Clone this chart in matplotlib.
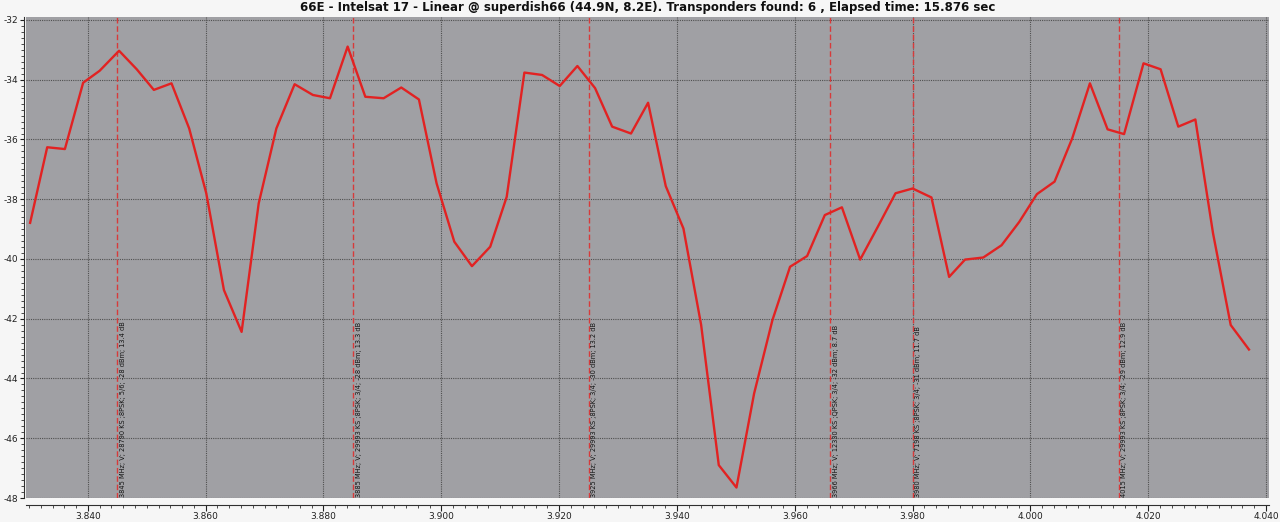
import matplotlib
matplotlib.use("Agg")
import matplotlib.pyplot as plt
from matplotlib.ticker import MultipleLocator, FormatStrFormatter

plt.rcParams["axes.unicode_minus"] = False

# spectrum samples (GHz, dB)
freq = [
    3.8302, 3.8331, 3.8361, 3.8392, 3.8420, 3.8453, 3.8483, 3.8512, 3.8542, 3.8572,
    3.8601, 3.8631, 3.8661, 3.8690, 3.8720, 3.8751, 3.8782, 3.8811, 3.8841, 3.8871,
    3.8902, 3.8932, 3.8962, 3.8992, 3.9022, 3.9052, 3.9083, 3.9111, 3.9141, 3.9171,
    3.9201, 3.9231, 3.9261, 3.9290, 3.9322, 3.9351, 3.9381, 3.9411, 3.9441, 3.9471,
    3.9501, 3.9531, 3.9562, 3.9592, 3.9621, 3.9651, 3.9680, 3.9711, 3.9741, 3.9771,
    3.9800, 3.9832, 3.9862, 3.9889, 3.9920, 3.9951, 3.9981, 4.0011, 4.0041, 4.0071,
    4.0101, 4.0131, 4.0159, 4.0192, 4.0221, 4.0251, 4.0280, 4.0310, 4.0340, 4.0371,
]
level = [
    -38.79, -36.26, -36.32, -34.10, -33.70, -33.03, -33.65, -34.34, -34.12, -35.63,
    -37.80, -41.04, -42.44, -38.14, -35.63, -34.15, -34.51, -34.62, -32.89, -34.57,
    -34.62, -34.26, -34.66, -37.47, -39.42, -40.24, -39.59, -37.92, -33.76, -33.84,
    -34.21, -33.54, -34.28, -35.57, -35.80, -34.77, -37.56, -38.98, -42.20, -46.90,
    -47.65, -44.50, -42.05, -40.26, -39.90, -38.53, -38.27, -40.02, -38.92, -37.80,
    -37.64, -37.94, -40.60, -40.02, -39.95, -39.54, -38.76, -37.83, -37.41, -35.96,
    -34.12, -35.66, -35.82, -33.45, -33.65, -35.57, -35.33, -39.14, -42.21, -43.03,
]

# transponders found
tp_freq = [3.845, 3.885, 3.925, 3.966, 3.980, 4.015]
tp_label = [
    "3845 MHz; V; 28790 KS ;8PSK; 5/6; -28 dBm; 13.4 dB",
    "3885 MHz; V; 29993 KS ;8PSK; 3/4; -28 dBm; 13.3 dB",
    "3925 MHz; V; 29993 KS ;8PSK; 3/4; -30 dBm; 13.2 dB",
    "3966 MHz; V; 12330 KS ;QPSK; 3/4; -32 dBm; 8.7 dB",
    "3980 MHz; V; 7198 KS ;8PSK; 3/4; -31 dBm; 11.7 dB",
    "4015 MHz; V; 29993 KS ;8PSK; 3/4; -29 dBm; 12.9 dB",
]

title = ("66E - Intelsat 17 - Linear @ superdish66 (44.9N, 8.2E). "
         "Transponders found: 6 , Elapsed time: 15.876 sec")

fig = plt.figure(figsize=(12.8, 5.22), dpi=100, facecolor="#f6f6f6")
ax = fig.add_axes([26 / 1280, 1 - 498 / 522, 1243 / 1280, 481 / 522])
ax.set_facecolor("#a0a0a4")

ax.set_xlim(3.8295, 4.0405)
ax.set_ylim(-48.0, -31.9)

ax.grid(True, which="major", color="#505050", linestyle=(0, (1, 1)), linewidth=0.8)
ax.set_axisbelow(True)

for f, lab in zip(tp_freq, tp_label):
    ax.axvline(f, color="#d83a3a", linestyle=(0, (4, 2)), linewidth=1.0, zorder=2)
    ax.text(f + 0.00045, -47.96, lab, rotation=90, ha="left", va="bottom",
            fontsize=4.8, color="#141414", zorder=3)

ax.plot(freq, level, color="#e22222", linewidth=1.7, zorder=4)

ax.xaxis.set_major_locator(MultipleLocator(0.02))
ax.xaxis.set_minor_locator(MultipleLocator(0.002))
ax.xaxis.set_major_formatter(FormatStrFormatter("%.3f"))
ax.yaxis.set_major_locator(MultipleLocator(2))
ax.yaxis.set_minor_locator(MultipleLocator(0.2))

for s in ["top", "right"]:
    ax.spines[s].set_visible(False)
ax.spines["bottom"].set_position(("outward", 5))
ax.spines["left"].set_position(("outward", 1.5))
ax.spines["bottom"].set_color("#303030")
ax.spines["left"].set_color("#303030")

ax.tick_params(axis="x", which="major", labelsize=6.5, colors="#202020",
               length=4, width=0.8, pad=1)
ax.tick_params(axis="y", which="major", labelsize=6.5, colors="#202020",
               length=3, width=0.8, pad=1)
ax.tick_params(axis="both", which="minor", length=2, width=0.6, colors="#303030")

ax.set_title(title, fontsize=8.5, fontweight="bold", pad=4, color="#101010")

fig.savefig("out.png", dpi=100, facecolor=fig.get_facecolor())
